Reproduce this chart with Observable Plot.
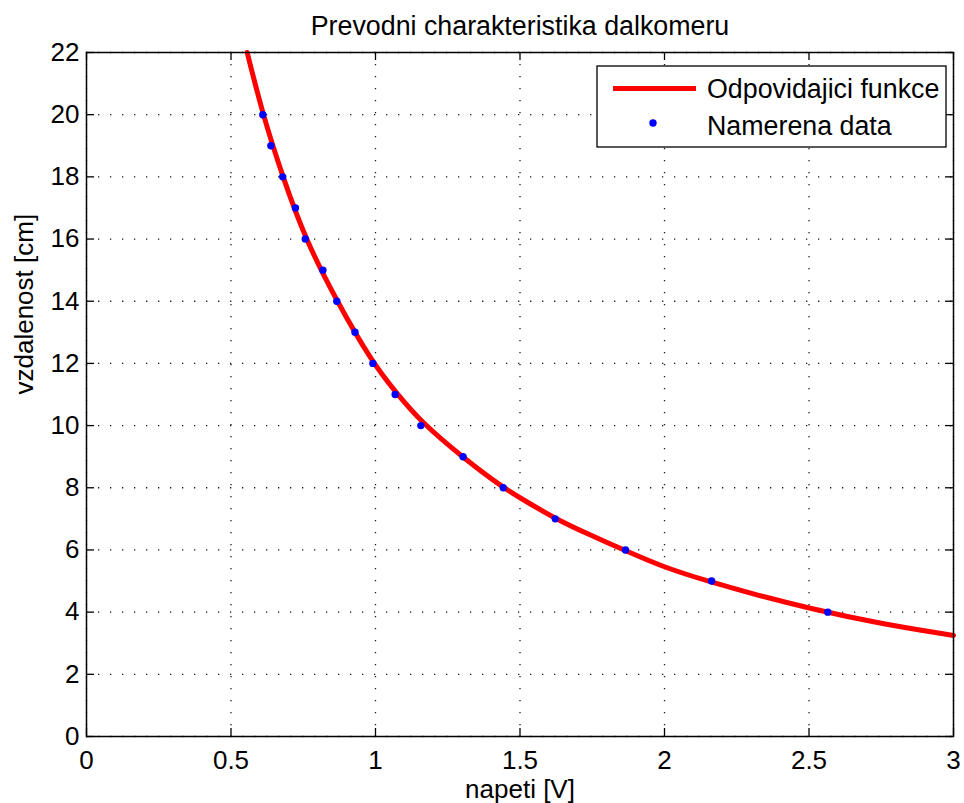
<!DOCTYPE html>
<html>
<head>
<meta charset="utf-8">
<script src="https://cdn.jsdelivr.net/npm/d3@7"></script>
<script src="https://cdn.jsdelivr.net/npm/@observablehq/plot@0.6"></script>
<style>
  html, body { margin: 0; padding: 0; background: white; }
</style>
</head>
<body>
<div id="chart"></div>
<script>
// Fitted curve ("Odpovidajici funkce")
const curveX = [0.556, 0.61, 0.679, 0.757, 0.866, 0.991, 1.068, 1.157, 1.303, 1.442, 1.5, 1.622, 1.75, 1.865, 2.0, 2.163, 2.3, 2.5, 2.75, 3.0];
const curveY = [22, 20, 18, 16, 14, 12, 11.1, 10.12, 8.97, 8.0, 7.68, 7.0, 6.45, 5.98, 5.43, 4.96, 4.6, 4.12, 3.62, 3.25];

// Measured data ("Namerena data")
const dataX = [0.610, 0.638, 0.679, 0.723, 0.757, 0.818, 0.866, 0.929, 0.991, 1.068, 1.157, 1.303, 1.442, 1.622, 1.865, 2.163, 2.565];
const dataY = [20, 19, 18, 17, 16, 15, 14, 13, 12, 11, 10, 9, 8, 7, 6, 5, 4];

const xTicks = [0, 0.5, 1, 1.5, 2, 2.5, 3];
const yTicks = [0, 2, 4, 6, 8, 10, 12, 14, 16, 18, 20, 22];

const titleText = "Prevodni charakteristika dalkomeru";
const xLabel = "napeti [V]";
const yLabel = "vzdalenost [cm]";
const legendLabels = ["Odpovidajici funkce", "Namerena data"];

const curve = curveX.map((x, i) => ({x, y: curveY[i]}));
const points = dataX.map((x, i) => ({x, y: dataY[i]}));

const W = 964, H = 803, ML = 86, MR = 11, MT = 52, MB = 67;
const PW = W - ML - MR, PH = H - MT - MB;
const font = "'Liberation Sans', Arial, Helvetica, sans-serif";

const svg = Plot.plot({
  width: W, height: H,
  marginLeft: ML, marginRight: MR, marginTop: MT, marginBottom: MB,
  style: {fontFamily: font, fontSize: "26px", color: "black", background: "white", overflow: "visible"},
  x: {domain: [0, 3]},
  y: {domain: [0, 22]},
  marks: [
    Plot.ruleX(xTicks, {stroke: "black", strokeWidth: 1.3, strokeDasharray: "1.3,10.7", strokeOpacity: 0.9}),
    Plot.ruleY(yTicks, {stroke: "black", strokeWidth: 1.3, strokeDasharray: "1.3,10.7", strokeOpacity: 0.9}),
    Plot.line(curve, {x: "x", y: "y", stroke: "#ff0000", strokeWidth: 5, curve: "basis"}),
    Plot.dot(points, {x: "x", y: "y", r: 3.7, fill: "#0000ff", stroke: "none"}),
    Plot.frame({stroke: "black", strokeWidth: 1.5}),
    Plot.ruleX(xTicks, {stroke: "black", strokeWidth: 1.3, insetTop: PH - 8}),
    Plot.ruleX(xTicks, {stroke: "black", strokeWidth: 1.3, insetBottom: PH - 8}),
    Plot.ruleY(yTicks, {stroke: "black", strokeWidth: 1.3, insetRight: PW - 8}),
    Plot.ruleY(yTicks, {stroke: "black", strokeWidth: 1.3, insetLeft: PW - 8}),
    Plot.axisX(xTicks, {anchor: "bottom", tickSize: 0, tickPadding: 14, label: null, fontSize: 26, tickFormat: d => String(d)}),
    Plot.axisY(yTicks, {anchor: "left", tickSize: 0, tickPadding: 7, label: null, fontSize: 26, tickFormat: d => String(d)}),
    Plot.text([titleText], {text: d => d, frameAnchor: "top", lineAnchor: "middle", dy: -26, fontSize: 26.8}),
    Plot.text([xLabel], {text: d => d, frameAnchor: "bottom", lineAnchor: "middle", dy: 53, fontSize: 26}),
    Plot.text([yLabel], {text: d => d, frameAnchor: "left", lineAnchor: "middle", rotate: -90, dx: -62, fontSize: 26})
  ]
});

// Legend box (MATLAB style, inside the axes)
const s = d3.select(svg);
const g = s.append("g").attr("text-anchor", "start");
g.append("rect").attr("x", 597).attr("y", 66).attr("width", 349).attr("height", 81)
  .attr("fill", "white").attr("stroke", "black").attr("stroke-width", 1.3);
g.append("line").attr("x1", 613).attr("x2", 696).attr("y1", 88.5).attr("y2", 88.5)
  .attr("stroke", "#ff0000").attr("stroke-width", 5);
g.append("circle").attr("cx", 653).attr("cy", 123).attr("r", 3.7).attr("fill", "#0000ff");
g.selectAll("text.lg").data(legendLabels).join("text")
  .attr("x", 707).attr("y", (d, i) => i === 0 ? 97.5 : 134.5)
  .attr("text-anchor", "start")
  .attr("font-family", font).attr("font-size", 26.8).attr("fill", "black")
  .text(d => d);

document.getElementById("chart").appendChild(svg);
</script>
</body>
</html>
